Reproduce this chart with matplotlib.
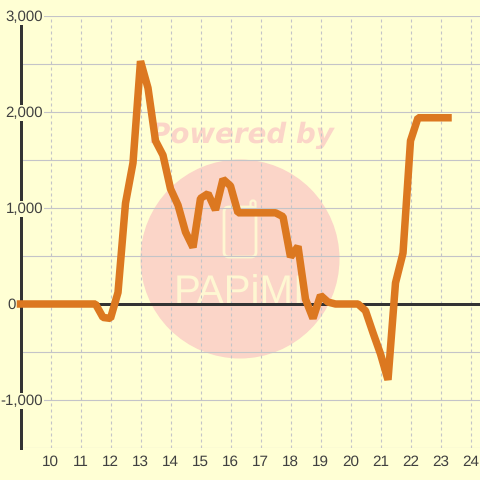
import matplotlib
matplotlib.use('Agg')
import matplotlib.pyplot as plt
from matplotlib.patches import Circle, FancyBboxPatch

hours = [9, 9.25, 9.5, 9.75, 10, 10.25, 10.5, 10.75, 11, 11.25, 11.5, 11.75, 12, 12.25, 12.5, 12.75,
         13, 13.25, 13.5, 13.75, 14, 14.25, 14.5, 14.75, 15, 15.25, 15.5, 15.75, 16, 16.25, 16.5, 16.75,
         17, 17.25, 17.5, 17.75, 18, 18.25, 18.5, 18.75, 19, 19.25, 19.5, 19.75, 20, 20.25, 20.5, 20.75,
         21, 21.25, 21.5, 21.75, 22, 22.25, 22.5, 22.75, 23, 23.25]
values = [0, 0, 0, 0, 0, 0, 0, 0, 0, 0, 0, -140, -150, 120, 1050, 1470,
          2530, 2250, 1700, 1550, 1200, 1030, 750, 590, 1100, 1150, 980, 1300, 1230, 950, 950, 950,
          950, 950, 950, 910, 490, 600, 50, -150, 90, 20, 0, 0, 0, 0, -70, -300,
          -520, -790, 220, 530, 1700, 1940, 1940, 1940, 1940, 1940]
x_ticks = list(range(10, 25))
y_major = [-1000, 0, 1000, 2000, 3000]
y_labels = ['-1,000', '0', '1,000', '2,000', '3,000']
y_minor = [-1500, -500, 500, 1500, 2500]

BG = '#ffffd4'
GRID = '#c4c4c8'
DARK = '#333333'
TEXT = '#404040'
ORANGE = '#dc7820'
PINK = '#fbd5c8'
CREAM = '#fef7d2'

plt.rcParams['font.family'] = ['Liberation Sans', 'DejaVu Sans']
plt.rcParams['text.hinting'] = 'none'

fig = plt.figure(figsize=(4.8, 4.8), dpi=100, facecolor=BG)

# 30 px per hour, 96 px per 1000, axis corner at (20.5, 448)
ax = fig.add_axes([20.5 / 480, 32 / 480, 459.5 / 480, 432 / 480])
ax.set_xlim(9, 9 + 459.5 / 30)
ax.set_ylim(-1500, 3000)
ax.patch.set_visible(False)
for s in ax.spines.values():
    s.set_visible(False)

# watermark, in figure pixels measured from top left
wm = fig.add_axes([0, 0, 1, 1], facecolor='none', zorder=-1)
wm.set_xlim(0, 480)
wm.set_ylim(480, 0)
wm.axis('off')
wm.add_patch(Circle((240, 259), 99.5, fc=PINK, ec='none'))
wm.text(242, 143, 'Powered by', color=PINK, fontsize=20, fontweight='bold', fontstyle='italic',
        family='DejaVu Sans', ha='center', va='baseline')
wm.add_patch(FancyBboxPatch((224, 207), 32, 50, boxstyle='round,pad=0,rounding_size=5',
                            fc='none', ec=CREAM, lw=2))
wm.add_patch(FancyBboxPatch((250.5, 200.5), 5, 10, boxstyle='round,pad=0,rounding_size=2.5',
                            fc='none', ec=CREAM, lw=1.6))
wm.text(239, 303, 'PAPiMI', color=CREAM, fontsize=29, family='Liberation Sans',
        ha='center', va='baseline')

ax.set_xticks(x_ticks)
ax.set_yticks(y_major)
ax.set_yticklabels([])
ax.set_yticks(y_minor, minor=True)
ax.tick_params(which='both', length=0)
ax.tick_params(axis='x', pad=5, labelsize=11, labelcolor=TEXT)
ax.set_axisbelow(True)
ax.grid(True, axis='y', which='both', color=GRID, lw=0.8)
ax.grid(True, axis='x', color=GRID, lw=0.8, ls=(0, (2.7, 2.7)))

# y labels sit on the axis with a background box; the 0 label is left of it
for val, lab in zip(y_major, y_labels):
    off = -3.5 if val == 0 else 16.2
    ax.annotate(lab, (0, val), xycoords=ax.get_yaxis_transform(), xytext=(off, -0.8),
                textcoords='offset points', ha='right', va='center', fontsize=10.8, color=TEXT,
                zorder=6, annotation_clip=False,
                bbox=dict(fc=BG, ec='none', pad=1) if val != 0 else None)

ax.axvline(9, color=DARK, lw=3 * 0.72, zorder=3, clip_on=False)
ax.axhline(0, color=DARK, lw=3 * 0.72, zorder=3)
ax.plot(hours, values, color=ORANGE, lw=7.5 * 0.72, zorder=4, solid_capstyle='projecting',
        solid_joinstyle='bevel', clip_on=False)

fig.savefig('out.png', dpi=100, facecolor=BG)
